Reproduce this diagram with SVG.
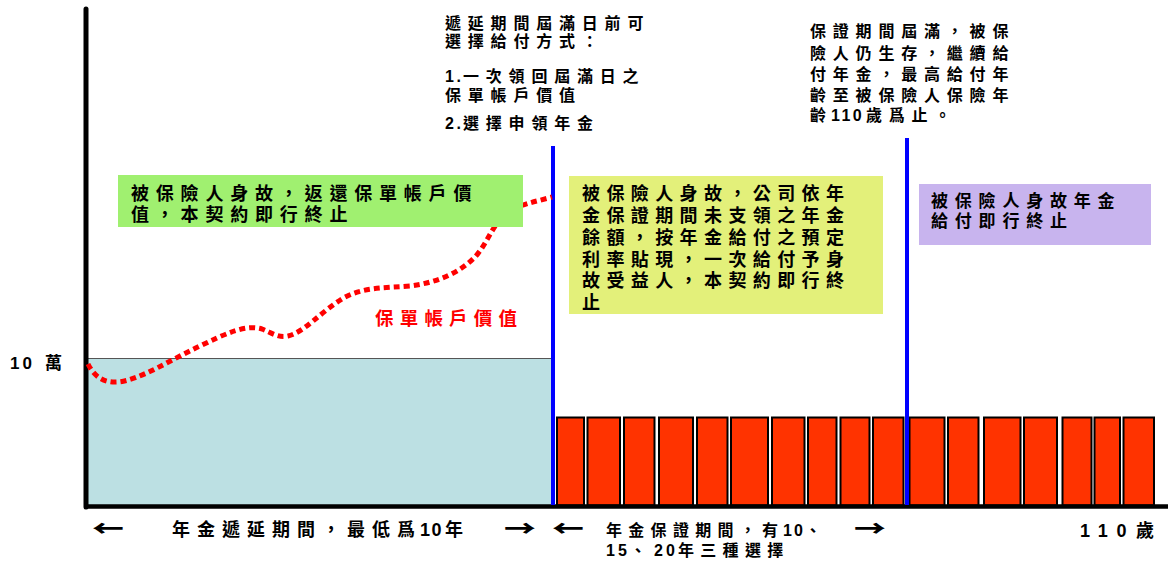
<svg xmlns="http://www.w3.org/2000/svg" width="1168" height="561" viewBox="0 0 1168 561">
<style>
text{font-family:"Liberation Sans","Noto Sans CJK TC",sans-serif;font-weight:bold;fill:#000}
.bar{fill:#FF3300;stroke:#000;stroke-width:2}
.t16{font-size:16px;letter-spacing:6.8px}
.t18{font-size:18px;letter-spacing:6.4px}
.arr{font-family:"Noto Sans CJK TC",sans-serif;font-size:22px;font-weight:900;text-anchor:middle}
.blue{stroke:#0000FF;stroke-width:4;fill:none}
</style>
<rect width="1168" height="561" fill="#fff"/>
<g id="deferral-area">
<rect x="88" y="358.5" width="465" height="147" fill="#BCE0E3"/>
<line x1="88" y1="358.5" x2="553" y2="358.5" stroke="#555" stroke-width="1.2"/>
</g>
<g id="annuity-bars">
<rect class="bar" x="557" y="417.5" width="27" height="88"/>
<rect class="bar" x="587.5" y="417.5" width="32.5" height="88"/>
<rect class="bar" x="624" y="417.5" width="30.5" height="88"/>
<rect class="bar" x="659" y="417.5" width="34" height="88"/>
<rect class="bar" x="697" y="417.5" width="30.5" height="88"/>
<rect class="bar" x="731" y="417.5" width="37" height="88"/>
<rect class="bar" x="772" y="417.5" width="32.5" height="88"/>
<rect class="bar" x="808" y="417.5" width="28.5" height="88"/>
<rect class="bar" x="840.5" y="417.5" width="29" height="88"/>
<rect class="bar" x="873" y="417.5" width="30.5" height="88"/>
<rect class="bar" x="909.5" y="417.5" width="35" height="88"/>
<rect class="bar" x="948" y="417.5" width="30.5" height="88"/>
<rect class="bar" x="984" y="417.5" width="36.5" height="88"/>
<rect class="bar" x="1024" y="417.5" width="33" height="88"/>
<rect class="bar" x="1062.5" y="417.5" width="29" height="88"/>
<rect class="bar" x="1094.5" y="417.5" width="25.5" height="88"/>
<rect class="bar" x="1123.5" y="417.5" width="30.5" height="88"/>
</g>
<g id="axes">
<line x1="86" y1="9" x2="86" y2="507" stroke="#000" stroke-width="5" stroke-linecap="round"/>
<line x1="84" y1="506.5" x2="1168" y2="506.5" stroke="#000" stroke-width="4.5"/>
</g>
<g id="connectors">
<line class="blue" x1="553" y1="146" x2="553" y2="505"/>
<line class="blue" x1="907" y1="138" x2="907" y2="505"/>
<path id="account-value-curve" d="M88,364 C95,378 105,383 118,382 C140,380 170,360 200,346 C225,334 245,324 262,329 C272,333 278,338 288,336 C305,332 320,312 345,297 C365,287 385,288 410,286 C440,282 460,272 475,257 C487,244 492,226 505,214 C519,204 535,202 552,197" fill="none" stroke="#FF0000" stroke-width="5" stroke-dasharray="6 4"/>
</g>
<g id="box-death-deferral">
<rect x="118" y="175" width="405" height="52" fill="#A0F070"/>
<text class="t18" x="131" y="200" style="letter-spacing:6.8px">被保險人身故，返還保單帳戶價</text>
<text class="t18" x="131" y="221" style="letter-spacing:6.8px">值，本契約即行終止</text>
</g>
<g id="box-death-guarantee">
<rect x="569" y="176" width="314" height="138" fill="#E3F07A"/>
<text class="t18" x="582" y="200">被保險人身故，公司依年</text>
<text class="t18" x="582" y="222">金保證期間未支領之年金</text>
<text class="t18" x="582" y="244">餘額，按年金給付之預定</text>
<text class="t18" x="582" y="266">利率貼現，一次給付予身</text>
<text class="t18" x="582" y="287">故受益人，本契約即行終</text>
<text class="t18" x="582" y="309">止</text>
</g>
<g id="box-death-after">
<rect x="919" y="184" width="232" height="61" fill="#C8B4EE"/>
<text x="931" y="207" style="font-size:17px;letter-spacing:6.8px">被保險人身故年金</text>
<text x="931" y="227" style="font-size:17px;letter-spacing:6.8px">給付即行終止</text>
</g>
<g id="note-deferral-end">
<text class="t16" x="445" y="29">遞延期間屆滿日前可</text>
<text class="t16" x="445" y="47">選擇給付方式：</text>
<text x="445" y="82" style="font-size:16px;letter-spacing:2.5px">1.</text>
<text class="t16" x="463" y="82">一次領回屆滿日之</text>
<text class="t16" x="445" y="101">保單帳戶價值</text>
<text x="445" y="129" style="font-size:16px;letter-spacing:2.5px">2.</text>
<text class="t16" x="463" y="129">選擇申領年金</text>
</g>
<g id="note-guarantee-end">
<text class="t16" x="810" y="37">保證期間屆滿，被保</text>
<text class="t16" x="810" y="59">險人仍生存，繼續給</text>
<text class="t16" x="810" y="80">付年金，最高給付年</text>
<text class="t16" x="810" y="101">齡至被保險人保險年</text>
<text x="810" y="121" style="font-size:16px">齡</text>
<text x="831" y="121" style="font-size:16px;letter-spacing:2.4px">110</text>
<text class="t16" x="866" y="121">歲爲止。</text>
</g>
<g id="label-account-value">
<text x="375" y="325" style="font-size:18.5px;letter-spacing:6.2px;fill:#FF0000">保單帳戶價值</text>
</g>
<g id="label-100k">
<text x="10" y="369" style="font-size:17px;letter-spacing:3px">10</text>
<text x="45" y="369" style="font-size:17px">萬</text>
</g>
<g id="label-deferral-period">
<text class="arr" transform="translate(108,536) scale(1.45,1)">←</text>
<text x="172" y="536" style="font-size:18px;letter-spacing:7px">年金遞延期間，最低爲</text>
<text x="420" y="536" style="font-size:18px;letter-spacing:1.5px">10</text>
<text x="445" y="536" style="font-size:18px">年</text>
<text class="arr" transform="translate(520,536) scale(1.45,1)">→</text>
</g>
<g id="label-guarantee-period">
<text class="arr" transform="translate(568,536) scale(1.45,1)">←</text>
<text class="t16" x="606" y="536" style="letter-spacing:6.3px">年金保證期間，有</text>
<text x="783" y="536" style="font-size:16px;letter-spacing:2px">10</text>
<text x="805" y="536" style="font-size:16px">、</text>
<text class="arr" transform="translate(870,536) scale(1.45,1)">→</text>
<text x="606" y="556" style="font-size:16px;letter-spacing:3px">15</text>
<text x="630" y="556" style="font-size:16px">、</text>
<text x="654" y="556" style="font-size:16px;letter-spacing:3px">20</text>
<text class="t16" x="678" y="556" style="letter-spacing:6.3px">年三種選擇</text>
</g>
<g id="label-age-110">
<text x="1080" y="537" style="font-size:18px;letter-spacing:8.7px">110</text>
<text x="1136" y="537" style="font-size:18px">歲</text>
</g>
</svg>
